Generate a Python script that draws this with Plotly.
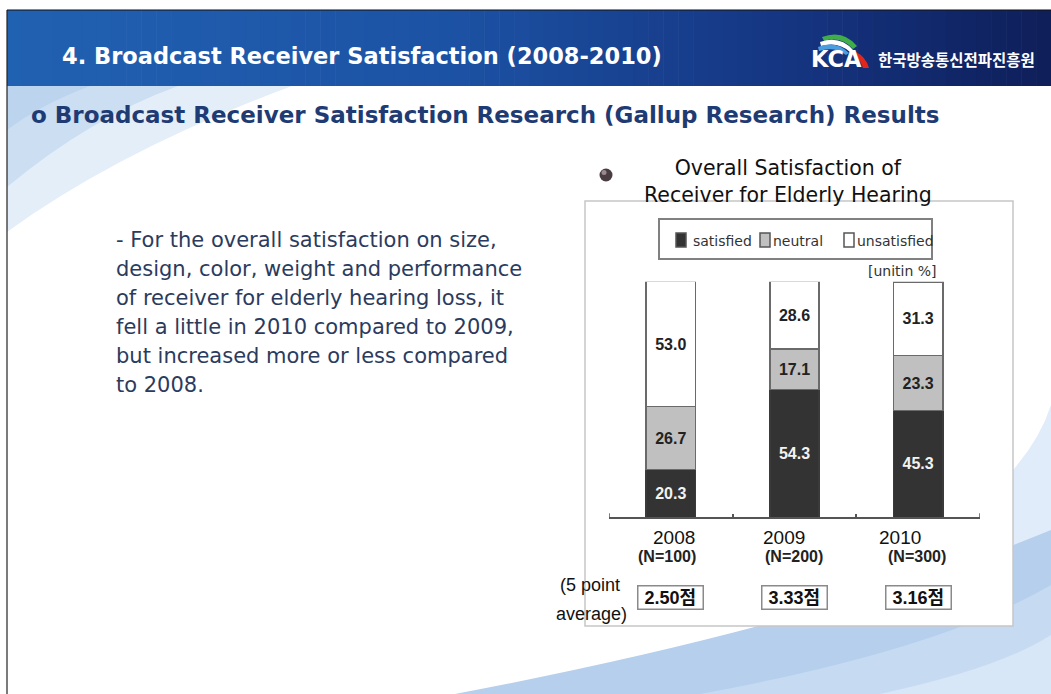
import plotly.graph_objects as go

W, H = 1051, 694

# ---------------- data ----------------
years = ["2008", "2009", "2010"]
sample_sizes = ["(N=100)", "(N=200)", "(N=300)"]
satisfied = [20.3, 54.3, 45.3]
neutral = [26.7, 17.1, 23.3]
unsatisfied = [53.0, 28.6, 31.3]
avg_scores = ["2.50", "3.33", "3.16"]
series_names = ["satisfied", "neutral", "unsatisfied"]

header_title = "4. Broadcast Receiver Satisfaction (2008-2010)"
sub_title = "o Broadcast Receiver Satisfaction Research (Gallup Research) Results"
chart_title = ["Overall Satisfaction of", "Receiver for Elderly Hearing"]
body_lines = [
    "- For the overall satisfaction on size,",
    "design, color, weight and performance",
    "of receiver for elderly hearing loss, it",
    "fell a little in 2010 compared to 2009,",
    "but increased more or less compared",
    "to 2008.",
]
org_name = "한국방송통신전파진흥원"

# ---------------- helpers (pixel -> paper) ----------------
def fx(x):
    return x / W


def fy(y):
    return 1 - y / H


def path(cmds):
    out = []
    for c in cmds:
        if isinstance(c, str):
            out.append(c)
        else:
            out.append(f"{fx(c[0]):.5f},{fy(c[1]):.5f}")
    return " ".join(out)


def rect(x0, y0, x1, y1, fill, line_color=None, line_width=0, layer="below"):
    return dict(type="rect", xref="paper", yref="paper",
                x0=fx(x0), x1=fx(x1), y0=fy(y1), y1=fy(y0),
                fillcolor=fill, layer=layer,
                line=dict(color=line_color or fill, width=line_width))


def pshape(cmds, fill):
    return dict(type="path", xref="paper", yref="paper", path=path(cmds),
                fillcolor=fill, layer="below", line=dict(width=0))


shapes = []

# background swooshes (top-left)
shapes.append(pshape(["M", (7, 86), "L", (292, 86), "Q", (120, 150), (7, 232), "Z"], "#e4eef9"))
shapes.append(pshape(["M", (7, 86), "L", (178, 86), "Q", (90, 118), (7, 187), "Z"], "#cbdef2"))
shapes.append(pshape(["M", (7, 86), "L", (90, 86), "Q", (40, 105), (7, 130), "Z"], "#bdd4ee"))

# background swooshes (bottom-right)
shapes.append(pshape(["M", (1051, 405), "Q", (1000, 565), (560, 694), "L", (1051, 694), "Z"], "#e0ecf9"))
shapes.append(pshape(["M", (455, 694), "Q", (820, 625), (1051, 530), "L", (1051, 694), "Z"], "#b5cfec"))
shapes.append(pshape(["M", (700, 694), "Q", (940, 650), (1051, 585), "L", (1051, 694), "Z"], "#c6dbf2"))
shapes.append(pshape(["M", (880, 694), "Q", (1000, 668), (1051, 635), "L", (1051, 694), "Z"], "#d8e7f7"))

# header gradient band
stops = [(7, (33, 97, 178)), (450, (28, 82, 164)), (800, (21, 52, 128)), (1051, (14, 30, 88))]
n = 70
x_start, x_end = 7, 1051
for i in range(n):
    xa = x_start + (x_end - x_start) * i / n
    xb = x_start + (x_end - x_start) * (i + 1) / n + 0.6
    xm = (xa + xb) / 2
    for j in range(len(stops) - 1):
        if stops[j][0] <= xm <= stops[j + 1][0]:
            t = (xm - stops[j][0]) / (stops[j + 1][0] - stops[j][0])
            c = [round(stops[j][1][k] + t * (stops[j + 1][1][k] - stops[j][1][k])) for k in range(3)]
            break
    col = "rgb({},{},{})".format(*c)
    shapes.append(rect(xa, 10, min(xb, W), 86, col))

# slide border lines
shapes.append(dict(type="line", xref="paper", yref="paper", x0=fx(7), x1=fx(7), y0=fy(10), y1=fy(694),
                   line=dict(color="#222222", width=1.2), layer="below"))
shapes.append(dict(type="line", xref="paper", yref="paper", x0=fx(7), x1=fx(1051), y0=fy(10), y1=fy(10),
                   line=dict(color="#111111", width=1.2), layer="below"))

# KCA logo swooshes
shapes.append(pshape(["M", (822, 37), "Q", (843, 29), (857, 46), "L", (853, 49), "Q", (841, 36), (824, 41), "Z"], "#3fae49"))
shapes.append(pshape(["M", (820, 42), "Q", (840, 35), (853, 50), "L", (850, 52), "Q", (838, 41), (821, 46), "Z"], "#ffffff"))
shapes.append(pshape(["M", (818, 47), "Q", (836, 40), (849, 53), "L", (846, 55), "Q", (834, 46), (819, 51), "Z"], "#4a9ee0"))
shapes.append(pshape(["M", (856, 52), "Q", (866, 57), (869, 68), "L", (863, 68), "Q", (861, 60), (853, 55), "Z"], "#e3261c"))

# chart frame
shapes.append(rect(585, 201, 1013, 626, "#ffffff", "#c6c6c6", 1.5))
# legend box
shapes.append(dict(type="rect", xref="paper", yref="paper", x0=fx(659), x1=fx(932), y0=fy(259), y1=fy(219),
                   fillcolor="#ffffff", line=dict(color="#808080", width=2), layer="below"))
# bullet sphere
shapes.append(dict(type="circle", xref="paper", yref="paper", x0=fx(599.5), x1=fx(612.5), y0=fy(181.5), y1=fy(168.5),
                   fillcolor="#4a3d41", line=dict(width=0), layer="above"))
shapes.append(dict(type="circle", xref="paper", yref="paper", x0=fx(601.5), x1=fx(606.5), y0=fy(175), y1=fy(170),
                   fillcolor="#9a8a90", line=dict(width=0), layer="above"))

# end ticks of the category axis (at the outer category boundaries)
for xb in (-0.5, len(years) - 0.5):
    shapes.append(dict(type="line", xref="x", yref="y", x0=xb, x1=xb, y0=0, y1=1.7,
                       line=dict(color="#555555", width=1.5), layer="above"))

# ---------------- bars ----------------
fills = ["#333333", "#c0c0c0", "#ffffff"]
outlines = ["#3a3a3a", "#6a6a6a", "#6a6a6a"]
text_colors = ["#f2f2f2", "#222222", "#222222"]
values = [satisfied, neutral, unsatisfied]

fig = go.Figure()
for name, vals, fc, lc, tc in zip(series_names, values, fills, outlines, text_colors):
    fig.add_trace(go.Bar(
        x=years, y=vals, name=name, width=0.4,
        marker=dict(color=fc, line=dict(color=lc, width=1.5)),
        texttemplate="%{y:.1f}", textposition="inside", insidetextanchor="middle",
        textangle=0,
        textfont=dict(family="Liberation Sans, Arial, sans-serif", size=16, color=tc, weight="bold"),
        hoverinfo="skip", showlegend=False,
    ))

annotations = []


def ann(text, x, y, size, color="#111111", family="DejaVu Sans", bold=False, xanchor="center",
        xref="paper", xshift=0, **kw):
    d = dict(text=text, x=x, y=y, xref=xref, yref="paper", showarrow=False,
             xanchor=xanchor, yanchor="middle", xshift=xshift,
             font=dict(family=family, size=size, color=color, weight="bold" if bold else "normal"))
    d.update(kw)
    annotations.append(d)


# header texts
ann(header_title, fx(60), fy(56), 22.5, "#ffffff", bold=True, xanchor="left")
ann("KCA", fx(809), fy(59), 22.5, "#ffffff", bold=True, xanchor="left")
ann(org_name, fx(876), fy(59), 15.5, "#ffffff", family="Noto Sans CJK KR", bold=True, xanchor="left")
ann(sub_title, fx(29), fy(115), 23, "#1f3b73", bold=True, xanchor="left")

# body text
for i, line in enumerate(body_lines):
    ann(line, fx(114), fy(240 + 29 * i), 21, "#2b3b5e", xanchor="left")

# chart title
ann("<br>".join(chart_title), fx(788), fy(182), 20.5, "#111111")
ann("[unitin %]", fx(902), fy(271), 14, "#333333")

# manual legend (squares + names) inside the legend box
leg_sq_x = [676, 760, 844]
leg_txt_x = [691, 771, 855]
for i, name in enumerate(series_names):
    shapes.append(dict(type="rect", xref="paper", yref="paper",
                       x0=fx(leg_sq_x[i]), x1=fx(leg_sq_x[i] + 10), y0=fy(247), y1=fy(233),
                       fillcolor=fills[i], line=dict(color="#555555", width=1.5), layer="above"))
    ann(name, fx(leg_txt_x[i]), fy(241), 14, "#333333", xanchor="left")

# category labels (positioned on the category axis by index)
lab_font = "Liberation Sans, Arial, sans-serif"
year_shift = [3, -11, -18]
n_shift = [-4, -1, -1]
for i, yr in enumerate(years):
    ann(yr, i, fy(537), 19, "#111111", family=lab_font, xref="x", xshift=year_shift[i])
    ann(sample_sizes[i], i, fy(556), 16, "#222222", family=lab_font, bold=True, xref="x", xshift=n_shift[i])
    ann("\u00a0" + avg_scores[i] + "점\u00a0", i, fy(597), 18, "#111111",
        family="Liberation Sans, Noto Sans CJK KR, sans-serif", bold=True, xref="x",
        bordercolor="#8a8a8a", borderwidth=1.5, borderpad=1, bgcolor="#ffffff")

ann("(5 point", fx(590), fy(585), 18, "#111111", family=lab_font)
ann("average)", fx(591), fy(614), 18, "#111111", family=lab_font)

fig.update_layout(
    width=W, height=H,
    margin=dict(l=0, r=0, t=0, b=0),
    paper_bgcolor="#ffffff", plot_bgcolor="rgba(0,0,0,0)",
    barmode="stack", bargap=0.6,
    showlegend=False,
    xaxis=dict(type="category", categoryorder="array", categoryarray=years,
               range=[-0.5, 2.5], domain=[fx(609), fx(980)],
               showline=True, linecolor="#555555", linewidth=1.5,
               ticks="inside", tickson="boundaries", ticklen=4, tickwidth=1.5, tickcolor="#555555",
               showticklabels=False, showgrid=False, zeroline=False, fixedrange=True),
    yaxis=dict(range=[0, 100], domain=[fy(517.3), fy(281.7)], visible=False, fixedrange=True),
    shapes=shapes,
    annotations=annotations,
)

fig.write_html("out.html", config={"displayModeBar": False},
               post_script="document.body.style.margin='0';document.body.style.overflow='hidden';")
